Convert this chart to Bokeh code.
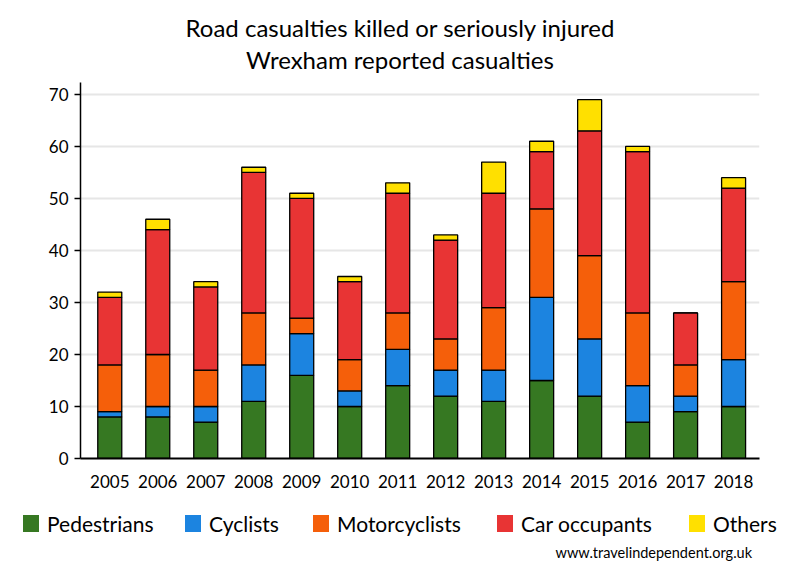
from bokeh.plotting import figure
from bokeh.models import ColumnDataSource, FixedTicker, Range1d, Div
from bokeh.layouts import column
from bokeh.embed import file_html
from bokeh.resources import INLINE

years = ["2005", "2006", "2007", "2008", "2009", "2010", "2011",
         "2012", "2013", "2014", "2015", "2016", "2017", "2018"]
pedestrians = [8, 8, 7, 11, 16, 10, 14, 12, 11, 15, 12, 7, 9, 10]
cyclists = [1, 2, 3, 7, 8, 3, 7, 5, 6, 16, 11, 7, 3, 9]
motorcyclists = [9, 10, 7, 10, 3, 6, 7, 6, 12, 17, 16, 14, 6, 15]
car_occupants = [13, 24, 16, 27, 23, 15, 23, 19, 22, 11, 24, 31, 10, 18]
others = [1, 2, 1, 1, 1, 1, 2, 1, 6, 2, 6, 1, 0, 2]

series = ["Pedestrians", "Cyclists", "Motorcyclists", "Car occupants", "Others"]
colors = ["#367822", "#1c84e0", "#f55f0a", "#e83434", "#ffe000"]
y_ticks = [0, 10, 20, 30, 40, 50, 60, 70]
title_lines = ["Road casualties killed or seriously injured",
               "Wrexham reported casualties"]
source_text = "www.travelindependent.org.uk"

FONT = "Lato"

src = ColumnDataSource(dict(
    x=list(range(len(years))),
    Pedestrians=pedestrians,
    Cyclists=cyclists,
    Motorcyclists=motorcyclists,
    **{"Car occupants": car_occupants},
    Others=others,
))

# title block
title_html = ('<div style="position:relative;width:784px;height:74px;'
              'font-family:Lato,sans-serif;color:black;">'
              f'<div style="position:absolute;left:16px;width:768px;top:12px;'
              f'text-align:center;font-size:24px;line-height:32px;'
              f'white-space:nowrap;">{title_lines[0]}</div>'
              f'<div style="position:absolute;left:16px;width:768px;top:44px;'
              f'text-align:center;font-size:24px;line-height:32px;'
              f'white-space:nowrap;">{title_lines[1]}</div></div>')
title_div = Div(text=title_html, width=784, height=74, margin=0)

p = figure(width=784, height=426, frame_width=679, frame_height=376,
           x_range=Range1d(-0.61, 13.54), y_range=Range1d(0, 72.3),
           output_backend="svg", toolbar_location=None,
           min_border_left=80, min_border_right=25,
           min_border_top=8, min_border_bottom=42)
p.outline_line_color = None
p.background_fill_color = "white"

p.vbar_stack(series, x="x", width=0.5, source=src, fill_color=colors,
             line_color="black", line_width=1.3)

# axes
p.xaxis.ticker = FixedTicker(ticks=list(range(len(years))))
p.xaxis.major_label_overrides = {i: y for i, y in enumerate(years)}
p.xaxis.major_tick_line_color = None
p.xaxis.minor_tick_line_color = None
p.xaxis.axis_line_width = 2
p.xaxis.axis_line_color = "black"
p.xaxis.major_label_standoff = 10
p.xaxis.major_label_text_font = FONT
p.xaxis.major_label_text_font_size = "17px"
p.xaxis.major_label_text_color = "black"

p.yaxis.ticker = FixedTicker(ticks=y_ticks)
p.yaxis.minor_tick_line_color = None
p.yaxis.major_tick_out = 6
p.yaxis.major_tick_in = 0
p.yaxis.major_tick_line_width = 1.5
p.yaxis.major_tick_line_color = "black"
p.yaxis.axis_line_width = 1.5
p.yaxis.axis_line_color = "black"
p.yaxis.major_label_standoff = 6
p.yaxis.major_label_text_font = FONT
p.yaxis.major_label_text_font_size = "17px"
p.yaxis.major_label_text_color = "black"

p.xgrid.grid_line_color = None
p.ygrid.grid_line_color = "#e6e6e6"
p.ygrid.grid_line_width = 2

# legend and source line (built from the series names and colours)
legend_left = [23, 185, 313, 497, 689]
parts = ['<div style="position:relative;width:784px;height:72px;'
         'font-family:Lato,sans-serif;color:black;">']
for name, c, lx in zip(series, colors, legend_left):
    parts.append(f'<div style="position:absolute;left:{lx}px;top:15px;'
                 f'width:16px;height:17px;background:{c};"></div>')
    parts.append(f'<div style="position:absolute;left:{lx + 24}px;top:11px;'
                 f'font-size:21px;line-height:25px;white-space:nowrap;">{name}</div>')
parts.append('<div style="position:absolute;right:32px;top:44px;font-size:14.5px;'
             f'line-height:18px;white-space:nowrap;">{source_text}</div>')
parts.append('</div>')
legend_div = Div(text="".join(parts), width=784, height=72, margin=0)

layout = column(title_div, p, legend_div, spacing=0)
open("out.html", "w").write(file_html(layout, INLINE))
